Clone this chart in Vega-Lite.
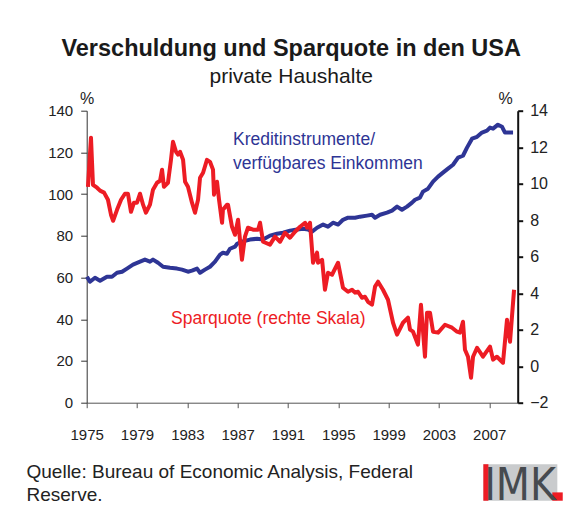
{
  "$schema": "https://vega.github.io/schema/vega-lite/v6.json",
  "width": 431,
  "height": 292,
  "autosize": {"type": "none"},
  "padding": {"left": 86.7, "top": 110.7, "right": 55.3, "bottom": 110.3},
  "background": "white",
  "title": {
    "text": "Verschuldung und Sparquote in den USA",
    "subtitle": "private Haushalte",
    "font": "Liberation Sans",
    "subtitleFont": "Liberation Sans",
    "fontSize": 23.5,
    "fontWeight": "bold",
    "subtitleFontSize": 21,
    "color": "#1a1a1a",
    "subtitleColor": "#1a1a1a",
    "anchor": "middle",
    "dx": -11,
    "offset": 3,
    "subtitlePadding": 6
  },
  "config": {
    "view": {"stroke": null},
    "font": "Liberation Sans",
    "axis": {"grid": false, "labelFont": "Liberation Sans", "titleFont": "Liberation Sans", "labelColor": "#222", "titleColor": "#222"}
  },
  "datasets": {
    "kredit": [
      {"year": 1975.02, "v": 60.4}, {"year": 1975.26, "v": 58.0}, {"year": 1975.66, "v": 59.9}, {"year": 1976.06, "v": 58.5},
      {"year": 1976.61, "v": 60.4}, {"year": 1977.01, "v": 60.4}, {"year": 1977.41, "v": 62.3}, {"year": 1977.81, "v": 62.8},
      {"year": 1978.20, "v": 64.3}, {"year": 1978.68, "v": 66.2}, {"year": 1979.24, "v": 67.6}, {"year": 1979.63, "v": 68.6},
      {"year": 1980.03, "v": 67.6}, {"year": 1980.27, "v": 68.6}, {"year": 1980.67, "v": 67.1}, {"year": 1981.07, "v": 65.2},
      {"year": 1981.62, "v": 64.7}, {"year": 1982.18, "v": 64.3}, {"year": 1982.58, "v": 63.8}, {"year": 1983.05, "v": 62.8},
      {"year": 1983.37, "v": 63.3}, {"year": 1983.77, "v": 64.3}, {"year": 1984.01, "v": 62.3}, {"year": 1984.40, "v": 63.8},
      {"year": 1984.80, "v": 65.2}, {"year": 1985.20, "v": 67.6}, {"year": 1985.60, "v": 71.0}, {"year": 1985.83, "v": 71.9},
      {"year": 1986.15, "v": 71.4}, {"year": 1986.39, "v": 73.8}, {"year": 1986.79, "v": 74.8}, {"year": 1986.95, "v": 76.2},
      {"year": 1987.34, "v": 77.2}, {"year": 1987.98, "v": 78.2}, {"year": 1988.54, "v": 78.6}, {"year": 1989.02, "v": 78.2},
      {"year": 1989.57, "v": 80.1}, {"year": 1990.13, "v": 81.0}, {"year": 1990.61, "v": 81.5}, {"year": 1991.16, "v": 82.5},
      {"year": 1991.72, "v": 83.0}, {"year": 1992.20, "v": 83.4}, {"year": 1992.60, "v": 83.0}, {"year": 1992.91, "v": 82.0},
      {"year": 1993.31, "v": 83.9}, {"year": 1993.79, "v": 85.4}, {"year": 1994.18, "v": 84.4}, {"year": 1994.58, "v": 86.3},
      {"year": 1994.98, "v": 85.4}, {"year": 1995.37, "v": 87.7}, {"year": 1995.77, "v": 88.7}, {"year": 1996.33, "v": 88.7},
      {"year": 1996.73, "v": 89.2}, {"year": 1997.28, "v": 89.7}, {"year": 1997.68, "v": 90.1}, {"year": 1997.92, "v": 88.7},
      {"year": 1998.32, "v": 90.1}, {"year": 1998.87, "v": 91.1}, {"year": 1999.27, "v": 92.1}, {"year": 1999.67, "v": 94.0},
      {"year": 2000.06, "v": 92.5}, {"year": 2000.46, "v": 94.0}, {"year": 2000.86, "v": 95.9}, {"year": 2001.10, "v": 97.3},
      {"year": 2001.49, "v": 98.3}, {"year": 2001.73, "v": 101.2}, {"year": 2002.13, "v": 102.6}, {"year": 2002.53, "v": 106.0},
      {"year": 2002.93, "v": 108.4}, {"year": 2003.32, "v": 110.3}, {"year": 2003.72, "v": 112.2}, {"year": 2004.12, "v": 114.1},
      {"year": 2004.52, "v": 117.5}, {"year": 2004.91, "v": 118.4}, {"year": 2005.23, "v": 122.3}, {"year": 2005.63, "v": 126.6},
      {"year": 2006.03, "v": 127.5}, {"year": 2006.42, "v": 129.5}, {"year": 2006.82, "v": 130.4}, {"year": 2007.06, "v": 131.9},
      {"year": 2007.30, "v": 131.4}, {"year": 2007.69, "v": 133.3}, {"year": 2008.01, "v": 132.3}, {"year": 2008.25, "v": 129.5},
      {"year": 2008.49, "v": 129.5}, {"year": 2008.89, "v": 129.5}
    ],
    "spar": [
      {"year": 1975.10, "v": 9.83}, {"year": 1975.34, "v": 12.52}, {"year": 1975.50, "v": 9.94}, {"year": 1975.82, "v": 9.78},
      {"year": 1976.06, "v": 9.62}, {"year": 1976.38, "v": 9.51}, {"year": 1976.69, "v": 9.12}, {"year": 1976.93, "v": 8.30},
      {"year": 1977.10, "v": 7.97}, {"year": 1977.41, "v": 8.57}, {"year": 1977.73, "v": 9.12}, {"year": 1978.04, "v": 9.45},
      {"year": 1978.28, "v": 9.45}, {"year": 1978.52, "v": 8.46}, {"year": 1978.76, "v": 8.96}, {"year": 1979.00, "v": 8.96},
      {"year": 1979.24, "v": 9.45}, {"year": 1979.48, "v": 8.85}, {"year": 1979.71, "v": 8.41}, {"year": 1980.03, "v": 8.85},
      {"year": 1980.27, "v": 9.67}, {"year": 1980.59, "v": 10.05}, {"year": 1980.83, "v": 10.16}, {"year": 1980.99, "v": 10.77},
      {"year": 1981.14, "v": 9.83}, {"year": 1981.46, "v": 10.05}, {"year": 1981.70, "v": 11.31}, {"year": 1981.86, "v": 12.30},
      {"year": 1982.10, "v": 11.75}, {"year": 1982.26, "v": 11.59}, {"year": 1982.42, "v": 11.75}, {"year": 1982.66, "v": 11.31},
      {"year": 1982.82, "v": 10.11}, {"year": 1983.05, "v": 9.83}, {"year": 1983.37, "v": 8.96}, {"year": 1983.61, "v": 8.41},
      {"year": 1983.85, "v": 9.12}, {"year": 1984.01, "v": 10.33}, {"year": 1984.25, "v": 10.60}, {"year": 1984.56, "v": 11.31},
      {"year": 1984.80, "v": 11.20}, {"year": 1985.04, "v": 10.77}, {"year": 1985.12, "v": 9.40}, {"year": 1985.36, "v": 10.11},
      {"year": 1985.52, "v": 9.12}, {"year": 1985.76, "v": 7.86}, {"year": 1985.83, "v": 8.57}, {"year": 1986.15, "v": 8.85},
      {"year": 1986.23, "v": 8.85}, {"year": 1986.55, "v": 7.64}, {"year": 1986.79, "v": 7.20}, {"year": 1987.03, "v": 8.03},
      {"year": 1987.34, "v": 5.83}, {"year": 1987.58, "v": 7.10}, {"year": 1987.82, "v": 7.59}, {"year": 1988.22, "v": 7.48},
      {"year": 1988.62, "v": 7.48}, {"year": 1988.78, "v": 7.86}, {"year": 1989.02, "v": 6.82}, {"year": 1989.57, "v": 6.66},
      {"year": 1989.97, "v": 7.10}, {"year": 1990.37, "v": 6.82}, {"year": 1990.76, "v": 7.31}, {"year": 1991.16, "v": 7.04},
      {"year": 1991.56, "v": 7.37}, {"year": 1991.96, "v": 7.64}, {"year": 1992.36, "v": 7.86}, {"year": 1992.52, "v": 7.59},
      {"year": 1992.75, "v": 7.86}, {"year": 1992.99, "v": 5.67}, {"year": 1993.31, "v": 6.22}, {"year": 1993.39, "v": 5.67},
      {"year": 1993.71, "v": 5.83}, {"year": 1993.94, "v": 4.19}, {"year": 1994.18, "v": 5.12}, {"year": 1994.50, "v": 5.01},
      {"year": 1994.98, "v": 5.67}, {"year": 1995.37, "v": 4.30}, {"year": 1995.77, "v": 4.08}, {"year": 1996.09, "v": 4.19},
      {"year": 1996.33, "v": 4.03}, {"year": 1996.57, "v": 4.08}, {"year": 1996.88, "v": 3.75}, {"year": 1997.12, "v": 3.81},
      {"year": 1997.36, "v": 3.53}, {"year": 1997.68, "v": 3.37}, {"year": 1997.92, "v": 4.36}, {"year": 1998.16, "v": 4.63},
      {"year": 1998.55, "v": 4.19}, {"year": 1998.95, "v": 3.64}, {"year": 1999.35, "v": 2.38}, {"year": 1999.67, "v": 1.73},
      {"year": 2000.14, "v": 2.38}, {"year": 2000.54, "v": 2.66}, {"year": 2000.70, "v": 2.00}, {"year": 2000.94, "v": 1.89},
      {"year": 2001.33, "v": 1.18}, {"year": 2001.57, "v": 3.37}, {"year": 2001.89, "v": 0.52}, {"year": 2002.05, "v": 2.93},
      {"year": 2002.29, "v": 2.93}, {"year": 2002.53, "v": 1.89}, {"year": 2002.93, "v": 1.84}, {"year": 2003.48, "v": 2.27},
      {"year": 2004.04, "v": 2.11}, {"year": 2004.44, "v": 1.89}, {"year": 2004.67, "v": 1.84}, {"year": 2004.91, "v": 2.44},
      {"year": 2005.07, "v": 0.90}, {"year": 2005.31, "v": 0.52}, {"year": 2005.55, "v": -0.63}, {"year": 2005.71, "v": 0.52},
      {"year": 2006.03, "v": 1.01}, {"year": 2006.50, "v": 0.52}, {"year": 2007.06, "v": 1.07}, {"year": 2007.30, "v": 0.36},
      {"year": 2007.61, "v": 0.52}, {"year": 2008.09, "v": 0.19}, {"year": 2008.41, "v": 2.55}, {"year": 2008.65, "v": 1.34},
      {"year": 2008.97, "v": 4.19}
    ]
  },
  "layer": [
    {
      "layer": [
        {
          "data": {"name": "kredit"},
          "mark": {"type": "line", "color": "#2e3595", "strokeWidth": 4, "strokeJoin": "round"},
          "encoding": {
            "x": {
              "field": "year", "type": "quantitative",
              "scale": {"domain": [1975, 2009.26], "nice": false, "zero": false},
              "axis": {
                "values": [1975, 1979, 1983, 1987, 1991, 1995, 1999, 2003, 2007],
                "format": "d",
                "labelFlush": false,
                "labelFontSize": 15,
                "labelPadding": 20,
                "tickSize": 5,
                "domainColor": "#555",
                "tickColor": "#555",
                "title": ["Quelle: Bureau of Economic Analysis, Federal", "Reserve."],
                "titleX": -60.7,
                "titleY": 74.3,
                "titleAlign": "left",
                "titleBaseline": "alphabetic",
                "titleFontSize": 19,
                "titleFontWeight": "normal",
                "titleLineHeight": 23
              }
            },
            "y": {
              "field": "v", "type": "quantitative",
              "scale": {"domain": [0, 140], "nice": false},
              "axis": {
                "values": [0, 20, 40, 60, 80, 100, 120, 140],
                "labelFontSize": 15,
                "labelPadding": 8,
                "tickSize": 6,
                "domainColor": "#333",
                "tickColor": "#333",
                "title": "%",
                "titleAngle": 0,
                "titleX": 0,
                "titleY": -7.5,
                "titleAlign": "center",
                "titleBaseline": "alphabetic",
                "titleFontSize": 16,
                "titleFontWeight": "normal"
              }
            }
          }
        },
        {
          "data": {"values": [{}]},
          "mark": {"type": "text", "text": "Kreditinstrumente/", "align": "left", "baseline": "middle", "fontSize": 17.5, "color": "#2e3595", "font": "Liberation Sans"},
          "encoding": {
            "x": {"datum": 1986.63, "type": "quantitative"},
            "y": {"datum": 125.8, "type": "quantitative"}
          }
        },
        {
          "data": {"values": [{}]},
          "mark": {"type": "text", "text": "verfügbares Einkommen", "align": "left", "baseline": "middle", "fontSize": 17.5, "color": "#2e3595", "font": "Liberation Sans"},
          "encoding": {
            "x": {"datum": 1986.63, "type": "quantitative"},
            "y": {"datum": 114.4, "type": "quantitative"}
          }
        },
        {
          "data": {"values": [{}]},
          "mark": {"type": "text", "text": "Sparquote (rechte Skala)", "align": "left", "baseline": "middle", "fontSize": 17.5, "color": "#ed1c24", "font": "Liberation Sans"},
          "encoding": {
            "x": {"datum": 1981.7, "type": "quantitative"},
            "y": {"datum": 39.9, "type": "quantitative"}
          }
        },
        {
          "data": {"values": [{}]},
          "mark": {"type": "rect", "color": "#c9cbcd"},
          "encoding": {
            "x": {"datum": 2006.53, "type": "quantitative"},
            "x2": {"datum": 2012.41},
            "y": {"datum": -29.5, "type": "quantitative"},
            "y2": {"datum": -47.0}
          }
        },
        {
          "data": {"values": [{}]},
          "mark": {"type": "rect", "color": "#ed1c24"},
          "encoding": {
            "x": {"datum": 2006.53, "type": "quantitative"},
            "x2": {"datum": 2006.93},
            "y": {"datum": -29.5, "type": "quantitative"},
            "y2": {"datum": -47.0}
          }
        },
        {
          "data": {"values": [{}]},
          "mark": {"type": "rect", "color": "#ed1c24"},
          "encoding": {
            "x": {"datum": 2012.01, "type": "quantitative"},
            "x2": {"datum": 2012.84},
            "y": {"datum": -43.0, "type": "quantitative"},
            "y2": {"datum": -47.0}
          }
        },
        {
          "data": {"values": [{}]},
          "mark": {"type": "text", "text": "IMK", "align": "center", "baseline": "alphabetic", "fontSize": 44, "color": "#464a4f", "font": "Liberation Sans Narrow, DejaVu Sans Condensed, Liberation Sans"},
          "encoding": {
            "x": {"datum": 2009.45, "type": "quantitative"},
            "y": {"datum": -46.6, "type": "quantitative"}
          }
        }
      ]
    },
    {
      "data": {"name": "spar"},
      "mark": {"type": "line", "color": "#ed1c24", "strokeWidth": 4, "strokeJoin": "round"},
      "encoding": {
        "x": {"field": "year", "type": "quantitative", "scale": {"domain": [1975, 2009.26], "nice": false, "zero": false}},
        "y": {
          "field": "v", "type": "quantitative",
          "scale": {"domain": [-2, 14], "nice": false, "zero": false},
          "axis": {
            "orient": "right",
            "values": [-2, 0, 2, 4, 6, 8, 10, 12, 14],
            "labelFontSize": 16,
            "labelPadding": 7,
            "tickSize": 5,
            "tickWidth": 2,
            "domainWidth": 2,
            "domainColor": "#111",
            "tickColor": "#111",
            "title": "%",
            "titleAngle": 0,
            "titleX": -12.7,
            "titleY": -7.5,
            "titleAlign": "center",
            "titleBaseline": "alphabetic",
            "titleFontSize": 16,
            "titleFontWeight": "normal"
          }
        }
      }
    }
  ],
  "resolve": {"scale": {"y": "independent"}}
}
